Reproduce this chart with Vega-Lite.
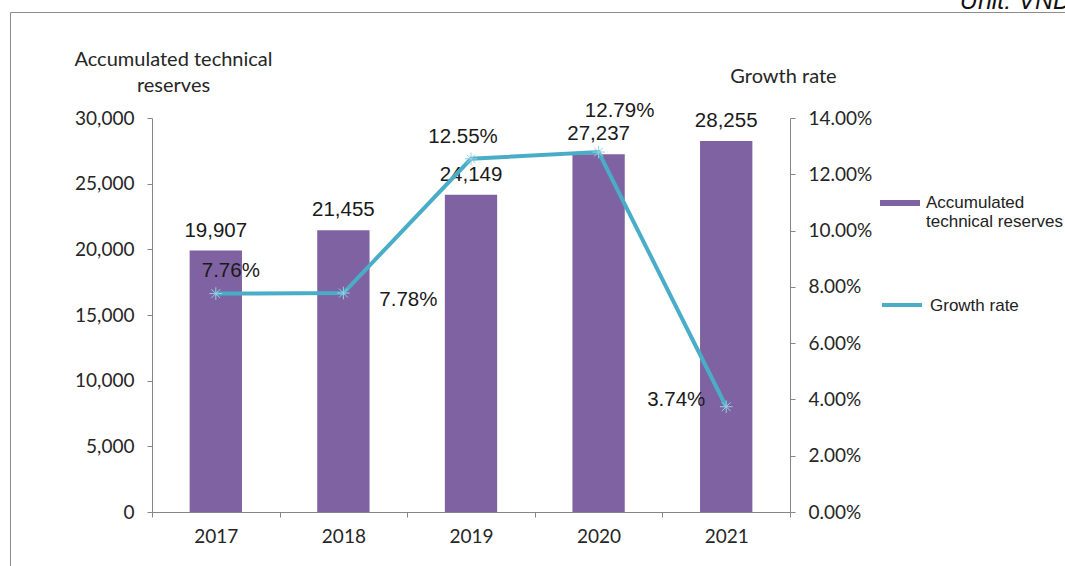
{
  "$schema": "https://vega.github.io/schema/vega-lite/v6.json",
  "width": 1055,
  "height": 554,
  "autosize": {"type": "none"},
  "padding": {"left": 10, "top": 12, "right": 0, "bottom": 0},
  "background": "white",
  "title": {
    "text": "Unit: VND",
    "anchor": "end",
    "orient": "top",
    "font": "Liberation Sans",
    "fontStyle": "italic",
    "fontWeight": "normal",
    "fontSize": 25,
    "color": "#111111",
    "offset": -2,
    "dx": 6
  },
  "config": {
    "view": {"stroke": "#8c8c8c", "strokeWidth": 1},
    "axis": {
      "grid": false,
      "domainColor": "#868686",
      "tickColor": "#868686",
      "tickSize": 5,
      "labelFont": "Lato",
      "labelFontSize": 19,
      "labelColor": "#262626",
      "titleFont": "Lato",
      "titleFontSize": 20,
      "titleFontWeight": "normal",
      "titleColor": "#262626"
    },
    "legend": {
      "orient": "none",
      "padding": 0,
      "labelFont": "Liberation Sans",
      "labelFontSize": 17,
      "labelColor": "#222222",
      "labelLimit": 0
    }
  },
  "data": {
    "values": [
      {"year": "2017", "reserves": 19907, "growth": 0.0776},
      {"year": "2018", "reserves": 21455, "growth": 0.0778},
      {"year": "2019", "reserves": 24149, "growth": 0.1255},
      {"year": "2020", "reserves": 27237, "growth": 0.1279},
      {"year": "2021", "reserves": 28255, "growth": 0.0374}
    ]
  },
  "encoding": {
    "x": {
      "field": "year",
      "type": "nominal",
      "scale": {"range": [142, 780], "paddingInner": 0, "paddingOuter": 0},
      "axis": {
        "orient": "bottom",
        "offset": -54,
        "title": null,
        "labelAngle": 0,
        "labelPadding": 10,
        "tickBand": "extent"
      }
    }
  },
  "resolve": {"scale": {"y": "independent"}},
  "layer": [
    {
      "encoding": {
        "y": {
          "field": "reserves",
          "type": "quantitative",
          "scale": {"domain": [0, 30000], "range": [500, 106], "nice": false, "zero": true},
          "axis": {
            "orient": "left",
            "offset": -142,
            "values": [0, 5000, 10000, 15000, 20000, 25000, 30000],
            "format": ",d",
            "labelPadding": 13,
            "title": ["Accumulated technical", "reserves"],
            "titleAngle": 0,
            "titleAlign": "center",
            "titleBaseline": "alphabetic",
            "titleLineHeight": 26,
            "titleX": 21,
            "titleY": 53
          }
        }
      },
      "layer": [
        {
          "mark": {"type": "bar", "width": {"band": 0.41}},
          "encoding": {
            "fill": {
              "datum": "Accumulated technical reserves",
              "scale": {"range": ["#7F62A1"]},
              "legend": {
                "title": null,
                "legendX": 870,
                "legendY": 176,
                "symbolType": "M-1,-0.4H1V-0.1H-1Z",
                "symbolSize": 1600,
                "symbolStrokeWidth": 0,
                "labelOffset": 6,
                "labelBaseline": "alphabetic",
                "labelLineHeight": 20,
                "labelExpr": "['Accumulated', 'technical reserves']"
              }
            }
          }
        },
        {
          "mark": {
            "type": "text",
            "baseline": "bottom",
            "dy": -10,
            "font": "Liberation Sans",
            "fontSize": 20.5,
            "color": "#1a1a1a"
          },
          "encoding": {
            "text": {"field": "reserves", "type": "quantitative", "format": ","}
          }
        }
      ]
    },
    {
      "encoding": {
        "y": {
          "field": "growth",
          "type": "quantitative",
          "scale": {"domain": [0, 0.14], "range": [500, 106], "nice": false, "zero": true},
          "axis": {
            "orient": "right",
            "offset": -275,
            "values": [0, 0.02, 0.04, 0.06, 0.08, 0.1, 0.12, 0.14],
            "format": ".2%",
            "labelPadding": 13,
            "title": "Growth rate",
            "titleAngle": 0,
            "titleAlign": "center",
            "titleBaseline": "alphabetic",
            "titleX": -7,
            "titleY": 70
          }
        }
      },
      "layer": [
        {
          "mark": {"type": "line", "strokeWidth": 4},
          "encoding": {
            "stroke": {
              "datum": "Growth rate",
              "scale": {"range": ["#4AADC8"]},
              "legend": {
                "title": null,
                "legendX": 870,
                "legendY": 277,
                "symbolType": "M-1,-0.3H1",
                "symbolSize": 1600,
                "symbolStrokeWidth": 4,
                "labelOffset": 6,
                "labelBaseline": "alphabetic"
              }
            }
          }
        },
        {
          "mark": {
            "type": "point",
            "shape": "M-1,0L1,0M0,-1L0,1M-0.7,-0.7L0.7,0.7M-0.7,0.7L0.7,-0.7",
            "filled": false,
            "size": 160,
            "stroke": "#93d2e3",
            "strokeWidth": 1,
            "opacity": 1
          },
          "encoding": {}
        },
        {
          "mark": {
            "type": "text",
            "align": "center",
            "baseline": "middle",
            "font": "Liberation Sans",
            "fontSize": 20.5,
            "color": "#1a1a1a",
            "dx": {"expr": "{'2017': 15, '2018': 65, '2019': -8, '2020': 21, '2021': -50}[datum.year]"},
            "dy": {"expr": "{'2017': -23, '2018': 7, '2019': -22, '2020': -41, '2021': -7}[datum.year]"}
          },
          "encoding": {
            "text": {"field": "growth", "type": "quantitative", "format": ".2%"}
          }
        }
      ]
    }
  ]
}
